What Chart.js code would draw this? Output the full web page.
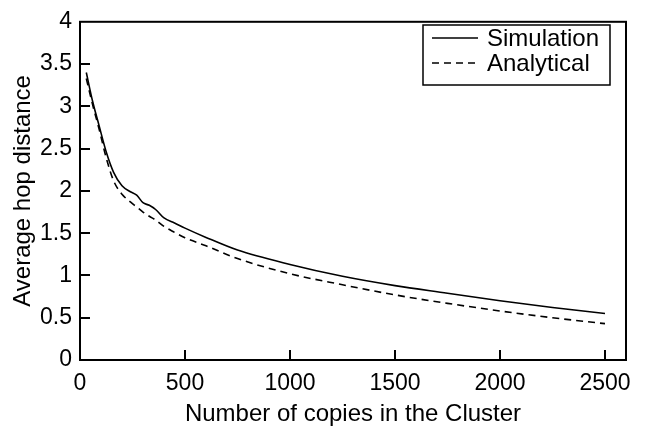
<!DOCTYPE html>
<html>
<head>
<meta charset="utf-8">
<script src="https://cdn.jsdelivr.net/npm/chart.js@4"></script>
<style>
  html, body { margin: 0; padding: 0; background: #fff; }
  #wrap { width: 646px; height: 427px; }
</style>
</head>
<body>
<div id="wrap"><canvas id="chart" width="646" height="427"></canvas></div>
<script>
// values
var copies = [30, 60, 90, 125, 160, 200, 240, 270, 300, 330, 360, 400, 450, 500, 600, 750, 1000, 1250, 1500, 1750, 2000, 2250, 2500];
var simulation = [3.40, 3.06, 2.78, 2.46, 2.22, 2.06, 1.99, 1.95, 1.86, 1.83, 1.78, 1.68, 1.62, 1.56, 1.45, 1.30, 1.13, 0.99, 0.88, 0.79, 0.70, 0.62, 0.55];
var analytical = [3.33, 3.02, 2.74, 2.39, 2.12, 1.96, 1.87, 1.81, 1.75, 1.70, 1.655, 1.58, 1.51, 1.445, 1.35, 1.20, 1.02, 0.89, 0.77, 0.67, 0.58, 0.50, 0.43];
var xTicks = [0, 500, 1000, 1500, 2000, 2500];
var yTicks = [0, 0.5, 1, 1.5, 2, 2.5, 3, 3.5, 4];
var seriesNames = ['Simulation', 'Analytical'];

var FONT = '"Liberation Sans", Arial, Helvetica, sans-serif';
var DASH = [7, 5];

function $map(arr, fn) { var out = []; for (var i = 0; i < arr.length; i++) out.push(fn(arr[i], i)); return out; }
function toPoints(xs, ys) {
    return $map(xs, function(x, i) { return {x: x, y: ys[i]}; });
}
function plainLabel(value) { return String(value); }

// frame, inward ticks and legend box
var framePlugin = {
    id: 'frame',
    afterDraw: function(chart) {
        var ctx = chart.ctx;
        var a = chart.chartArea;
        var xs = chart.scales.x, ys = chart.scales.y;
        ctx.save();
        ctx.strokeStyle = '#000';
        ctx.lineWidth = 2;
        ctx.strokeRect(a.left, a.top, a.right - a.left, a.bottom - a.top);

        ctx.beginPath();
        xTicks.forEach(function(v) {
            if (v === 0) return;
            var px = Math.round(xs.getPixelForValue(v));
            ctx.moveTo(px, a.bottom);
            ctx.lineTo(px, a.bottom - 10);
        });
        yTicks.forEach(function(v) {
            if (v === 0 || v === 4) return;
            var py = Math.round(ys.getPixelForValue(v));
            ctx.moveTo(a.left, py);
            ctx.lineTo(a.left + 10, py);
        });
        ctx.stroke();

        // legend
        var bx = 423, by = 25, bw = 187, bh = 60;
        ctx.fillStyle = '#fff';
        ctx.fillRect(bx, by, bw, bh);
        ctx.lineWidth = 1.5;
        ctx.strokeRect(bx, by, bw, bh);
        var rows = [38, 63];
        ctx.font = '24px ' + FONT;
        ctx.fillStyle = '#000';
        ctx.textBaseline = 'middle';
        ctx.textAlign = 'left';
        rows.forEach(function(ry, i) {
            ctx.beginPath();
            ctx.lineWidth = 1.5;
            ctx.setLineDash(i === 0 ? [] : DASH);
            ctx.moveTo(432, ry);
            ctx.lineTo(478, ry);
            ctx.stroke();
            ctx.setLineDash([]);
            ctx.fillText(seriesNames[i], 487, ry + 1);
        });
        ctx.restore();
    }
};

var ctx = document.getElementById('chart').getContext('2d');
var chart = new Chart(ctx, {
    type: 'line',
    data: {
        datasets: [{
            label: seriesNames[0],
            data: toPoints(copies, simulation),
            borderColor: '#000',
            borderWidth: 1.6,
            pointRadius: 0,
            fill: false,
            cubicInterpolationMode: 'monotone'
        }, {
            label: seriesNames[1],
            data: toPoints(copies, analytical),
            borderColor: '#000',
            borderWidth: 1.6,
            borderDash: DASH,
            pointRadius: 0,
            fill: false,
            cubicInterpolationMode: 'monotone'
        }]
    },
    options: {
        responsive: false,
        animation: false,
        devicePixelRatio: 1,
        layout: { padding: { top: 11, right: 20, left: 0, bottom: 0 } },
        plugins: { legend: { display: false }, tooltip: { enabled: false } },
        scales: {
            x: {
                type: 'linear',
                min: 0,
                max: 2600,
                afterBuildTicks: function(scale) {
                    scale.ticks = $map(xTicks, function(v) { return {value: v}; });
                },
                afterFit: function(scale) { scale.height = 67; },
                grid: { display: false, drawTicks: false },
                border: { display: false },
                ticks: { color: '#000', font: { family: FONT, size: 23 }, padding: 10, maxRotation: 0, autoSkip: false, callback: plainLabel },
                title: {
                    display: true,
                    text: 'Number of copies in the Cluster',
                    color: '#000',
                    font: { family: FONT, size: 24, lineHeight: 1 },
                    padding: { top: 0, bottom: 1 }
                }
            },
            y: {
                min: 0,
                max: 4,
                afterBuildTicks: function(scale) {
                    scale.ticks = $map(yTicks, function(v) { return {value: v}; });
                },
                afterFit: function(scale) { scale.width = 80; },
                grid: { display: false, drawTicks: false },
                border: { display: false },
                ticks: { color: '#000', font: { family: FONT, size: 23 }, padding: 8, autoSkip: false, callback: plainLabel },
                title: {
                    display: true,
                    text: 'Average hop distance',
                    color: '#000',
                    font: { family: FONT, size: 24, lineHeight: 1 },
                    padding: { top: 11, bottom: 0 }
                }
            }
        }
    },
    plugins: [framePlugin]
});
</script>
</body>
</html>
